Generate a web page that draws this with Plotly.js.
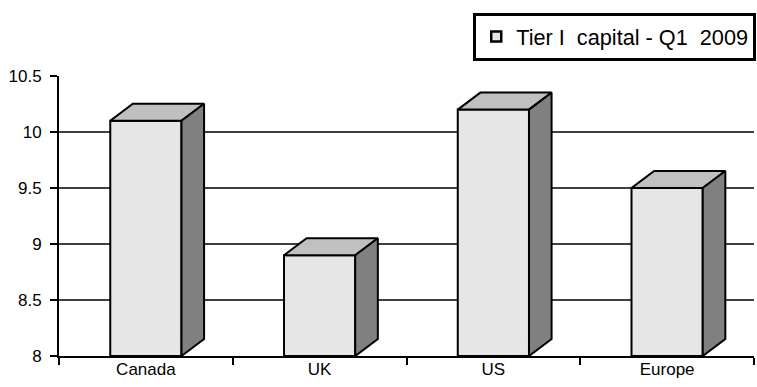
<!DOCTYPE html>
<html>
<head>
<meta charset="utf-8">
<script src="https://cdn.plot.ly/plotly-3.0.1.min.js"></script>
<style>
  html, body { margin: 0; padding: 0; background: #ffffff; }
  #chart { width: 757px; height: 387px; }
</style>
</head>
<body>
<div id="chart"></div>
<script>
// ---- Data ----
const categories = ['Canada', 'UK', 'US', 'Europe'];
const values = [10.1, 8.9, 10.2, 9.5];
const seriesName = 'Tier I\u00a0\u00a0capital - Q1\u00a0\u00a02009';
const yTickVals = [8, 8.5, 9, 9.5, 10, 10.5];
const yTickText = ['8', '8.5', '9', '9.5', '10', '10.5'];
const gridVals = [8.5, 9, 9.5, 10];

// ---- Styling / geometry ----
const yMin = 8, yMax = 10.5;
const halfW = 0.205;   // half width of the front face (category units)
const depthX = 0.13;   // 3D depth, x (category units)
const depthY = 0.152;  // 3D depth, y (value units)
const frontColor = '#e6e6e6';
const topColor = '#c0c0c0';
const sideColor = '#808080';
const edge = { color: '#000000', width: 2 };
const font = { family: 'Liberation Sans, Arial, sans-serif', color: '#000000' };

const traces = [];
// category trace establishing the category axis
traces.push({
  type: 'scatter', x: categories, y: values, mode: 'none',
  xaxis: 'x', yaxis: 'y', showlegend: false, hoverinfo: 'skip'
});

function poly(xs, ys, color) {
  return {
    type: 'scatter', x: xs.concat([xs[0]]), y: ys.concat([ys[0]]),
    mode: 'lines', fill: 'toself', fillcolor: color, line: edge,
    xaxis: 'x2', yaxis: 'y', showlegend: false, hoverinfo: 'skip'
  };
}

values.forEach((v, i) => {
  const xl = i - halfW, xr = i + halfW;
  // front face
  traces.push(poly([xl, xl, xr, xr], [yMin, v, v, yMin], frontColor));
  // top face
  traces.push(poly([xl, xl + depthX, xr + depthX, xr], [v, v + depthY, v + depthY, v], topColor));
  // side face
  traces.push(poly([xr, xr, xr + depthX, xr + depthX], [yMin, v, v + depthY, yMin + depthY], sideColor));
});

// legend entry
traces.push({
  type: 'scatter', x: [null], y: [null], mode: 'markers', name: seriesName,
  xaxis: 'x2', yaxis: 'y', showlegend: true,
  marker: { symbol: 'square', size: 10, color: frontColor, line: { color: '#000000', width: 2.5 } }
});

const shapes = gridVals.map(g => ({
  type: 'line', xref: 'paper', yref: 'y', x0: 0, x1: 1, y0: g, y1: g,
  line: { color: '#000000', width: 1.6 }, layer: 'below'
}));

const layout = {
  width: 757, height: 387,
  margin: { l: 59, r: 1, t: 76, b: 31, pad: 0 },
  paper_bgcolor: '#ffffff', plot_bgcolor: '#ffffff',
  font: Object.assign({ size: 17 }, font),
  showlegend: true,
  legend: {
    x: 0.596, xanchor: 'left', y: 1.225, yanchor: 'top',
    bordercolor: '#000000', borderwidth: 3, bgcolor: '#ffffff',
    itemwidth: 30,
    font: Object.assign({ size: 21.7 }, font)
  },
  xaxis: {
    type: 'category', range: [-0.5, 3.5], tickson: 'boundaries',
    ticks: 'outside', ticklen: 7, tickwidth: 2, tickcolor: '#000000',
    showline: true, linecolor: '#000000', linewidth: 2,
    showgrid: false, zeroline: false, fixedrange: true,
    ticklabelstandoff: -3,
    tickfont: Object.assign({ size: 17 }, font)
  },
  xaxis2: {
    type: 'linear', overlaying: 'x', range: [-0.5, 3.5], visible: false, fixedrange: true
  },
  yaxis: {
    range: [yMin, yMax], tickmode: 'array', tickvals: yTickVals, ticktext: yTickText,
    ticks: 'outside', ticklen: 7, tickwidth: 2, tickcolor: '#000000',
    showline: true, linecolor: '#000000', linewidth: 2,
    showgrid: false, zeroline: false, fixedrange: true,
    ticklabelstandoff: 5,
    tickfont: Object.assign({ size: 17 }, font)
  },
  shapes: shapes
};

Plotly.newPlot('chart', traces, layout, { displayModeBar: false, staticPlot: true });
</script>
</body>
</html>
